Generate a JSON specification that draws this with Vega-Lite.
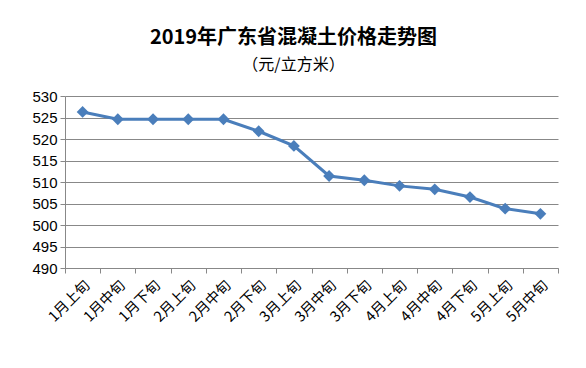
{
  "$schema": "https://vega.github.io/schema/vega-lite/v6.json",
  "width": 493,
  "height": 172,
  "autosize": {"type": "none"},
  "padding": {"left": 65, "top": 96, "right": 28, "bottom": 100},
  "background": "white",
  "title": {
    "text": "2019年广东省混凝土价格走势图",
    "subtitle": "（元/立方米）",
    "font": "Noto Sans CJK SC",
    "fontSize": 20,
    "fontWeight": "bold",
    "color": "#000000",
    "subtitleFont": "Noto Sans CJK SC",
    "subtitleFontSize": 16,
    "subtitleColor": "#000000",
    "subtitlePadding": 9,
    "anchor": "middle",
    "dx": -18,
    "offset": 16
  },
  "data": {
    "values": [
      {"period": "1月上旬", "price": 526.3},
      {"period": "1月中旬", "price": 524.6},
      {"period": "1月下旬", "price": 524.6},
      {"period": "2月上旬", "price": 524.6},
      {"period": "2月中旬", "price": 524.6},
      {"period": "2月下旬", "price": 521.8},
      {"period": "3月上旬", "price": 518.4},
      {"period": "3月中旬", "price": 511.4},
      {"period": "3月下旬", "price": 510.4},
      {"period": "4月上旬", "price": 509.1},
      {"period": "4月中旬", "price": 508.3},
      {"period": "4月下旬", "price": 506.5},
      {"period": "5月上旬", "price": 503.8},
      {"period": "5月中旬", "price": 502.6}
    ]
  },
  "encoding": {
    "x": {
      "field": "period",
      "type": "ordinal",
      "sort": null,
      "scale": {"paddingInner": 0, "paddingOuter": 0},
      "axis": {
        "title": null,
        "labelAngle": -45,
        "labelFont": "Noto Sans CJK SC",
        "labelFontSize": 14.5,
        "labelColor": "#000000",
        "tickBand": "extent",
        "domainColor": "#888888",
        "tickColor": "#888888",
        "tickSize": 5,
        "grid": false,
        "labelPadding": 5
      }
    },
    "y": {
      "field": "price",
      "type": "quantitative",
      "scale": {"domain": [490, 530], "zero": false, "nice": false},
      "axis": {
        "title": null,
        "values": [490, 495, 500, 505, 510, 515, 520, 525, 530],
        "labelFont": "Liberation Sans",
        "labelFontSize": 15,
        "labelColor": "#000000",
        "domainColor": "#888888",
        "tickColor": "#888888",
        "tickSize": 5,
        "gridColor": "#888888",
        "gridWidth": 1,
        "labelPadding": 3
      }
    }
  },
  "layer": [
    {"mark": {"type": "line", "color": "#4a7ebb", "strokeWidth": 3}},
    {"mark": {"type": "point", "shape": "diamond", "filled": true, "color": "#4a7ebb", "size": 140, "opacity": 1}}
  ],
  "config": {"view": {"stroke": null}}
}
